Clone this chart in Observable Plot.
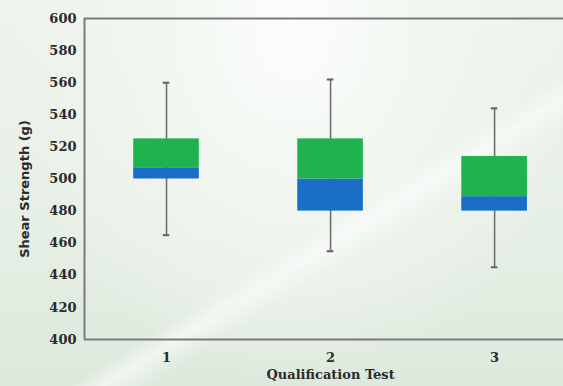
<!DOCTYPE html>
<html>
<head>
<meta charset="utf-8">
<script src="https://cdn.jsdelivr.net/npm/d3@7"></script>
<script src="https://cdn.jsdelivr.net/npm/@observablehq/plot@0.6"></script>
<style>
  html, body { margin: 0; padding: 0; width: 563px; height: 386px; overflow: hidden; }
  body {
    background:
      linear-gradient(148deg, rgba(255,255,255,0) 0%, rgba(255,255,255,0) 58%, rgba(255,255,255,0.55) 61%, rgba(255,255,255,0) 65%, rgba(255,255,255,0) 100%),
      radial-gradient(ellipse at 52% 8%, #fbfdfb 0%, #f1f6f0 35%, rgba(233,241,232,0) 70%),
      linear-gradient(180deg, #eef4ed 0%, #e6efe5 60%, #dde9dc 100%);
  }
  #chart svg { display: block; background: transparent; }
</style>
</head>
<body>
<div id="chart"></div>
<script>
const tests = [1, 2, 3];
const whiskerLow = [465, 455, 445];
const q1 = [500, 480, 480];
const median = [507, 500, 489];
const q3 = [525, 525, 514];
const whiskerHigh = [560, 562, 544];
const yTicks = [400, 420, 440, 460, 480, 500, 520, 540, 560, 580, 600];

const data = tests.map((t, i) => ({
  test: t, lo: whiskerLow[i], q1: q1[i], med: median[i], q3: q3[i], hi: whiskerHigh[i]
}));

const serif = "'DejaVu Serif', 'Liberation Serif', serif";
const sans = "'DejaVu Sans', 'Liberation Sans', sans-serif";
const chart = Plot.plot({
  width: 563,
  height: 386,
  marginLeft: 84,
  marginRight: 0,
  marginTop: 18,
  marginBottom: 47,
  style: { background: "transparent", fontFamily: serif, fontWeight: "bold", fontSize: "13px", color: "#2b2b2b" },
  x: { type: "linear", domain: [0.5, 3.42] },
  y: { domain: [400, 600] },
  marks: [
    Plot.ruleX(data, { x: "test", y1: "lo", y2: "hi", stroke: "#707070", strokeWidth: 1.6 }),
    Plot.ruleY(data, { y: "hi", x1: d => d.test - 0.02, x2: d => d.test + 0.02, stroke: "#606060", strokeWidth: 2 }),
    Plot.ruleY(data, { y: "lo", x1: d => d.test - 0.02, x2: d => d.test + 0.02, stroke: "#606060", strokeWidth: 2 }),
    Plot.rect(data, { x1: d => d.test - 0.2, x2: d => d.test + 0.2, y1: "q1", y2: "med", fill: "#1a6ec6" }),
    Plot.rect(data, { x1: d => d.test - 0.2, x2: d => d.test + 0.2, y1: "med", y2: "q3", fill: "#1fb350" }),
    Plot.ruleX([0.5], { stroke: "#7a7a7a", strokeWidth: 2 }),
    Plot.ruleY([400, 600], { stroke: "#7a7a7a", strokeWidth: 2 }),
    Plot.axisY({ ticks: yTicks, tickSize: 0, tickPadding: 8, label: null, fontSize: 13 }),
    Plot.axisX({ ticks: tests, tickSize: 0, tickPadding: 13, label: null, tickFormat: d => String(d), fontSize: 13 }),
    Plot.text(["Shear Strength (g)"], { frameAnchor: "left", textAnchor: "middle", dx: -60, dy: 10, rotate: -90, fontSize: 13, fontFamily: sans, fontWeight: "bold" }),
    Plot.text(["Qualification Test"], { x: [2], frameAnchor: "bottom", dy: 39, fontSize: 13, text: d => d })
  ]
});
document.getElementById("chart").appendChild(chart);
</script>
</body>
</html>
